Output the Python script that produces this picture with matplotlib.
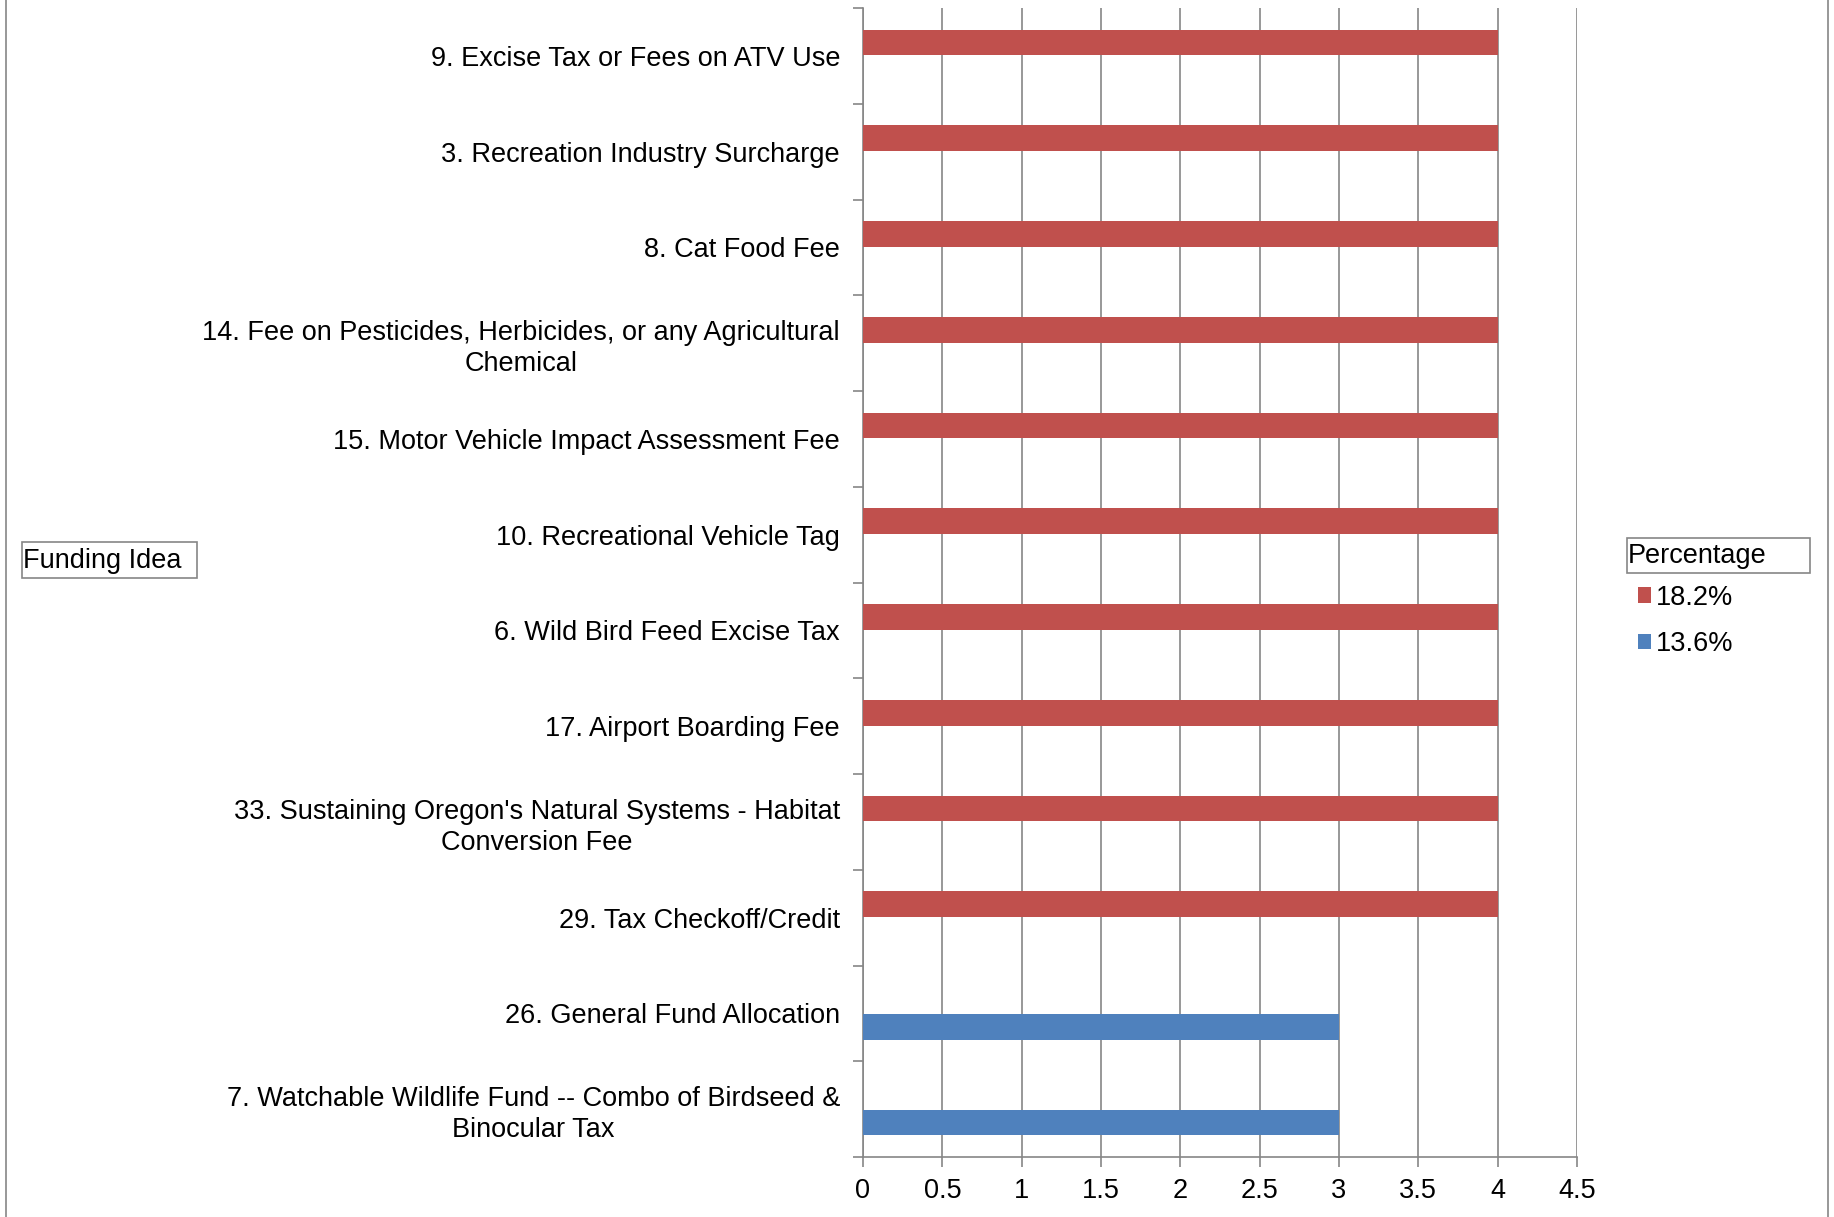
import matplotlib
matplotlib.use('Agg')
import matplotlib.pyplot as plt
from matplotlib.patches import Rectangle, Patch
from matplotlib.lines import Line2D
import numpy as np

plt.rcParams['font.family'] = ['Liberation Sans', 'DejaVu Sans']

ideas = ["9. Excise Tax or Fees on ATV Use",
         "3. Recreation Industry Surcharge",
         "8. Cat Food Fee",
         "14. Fee on Pesticides, Herbicides, or any Agricultural\nChemical",
         "15. Motor Vehicle Impact Assessment Fee",
         "10. Recreational Vehicle Tag",
         "6. Wild Bird Feed Excise Tax",
         "17. Airport Boarding Fee",
         "33. Sustaining Oregon's Natural Systems - Habitat\nConversion Fee",
         "29. Tax Checkoff/Credit",
         "26. General Fund Allocation",
         "7. Watchable Wildlife Fund -- Combo of Birdseed &\nBinocular Tax"]
pct_18 = [4, 4, 4, 4, 4, 4, 4, 4, 4, 4, 0, 0]
pct_13 = [0, 0, 0, 0, 0, 0, 0, 0, 0, 0, 3, 3]
series_names = ["18.2%", "13.6%"]
x_ticks = [0, 0.5, 1, 1.5, 2, 2.5, 3, 3.5, 4, 4.5]

red = '#C0504D'
blue = '#4F81BD'
grey = '#868686'
fs = 19.5

W, H = 1834, 1217
fig = plt.figure(figsize=(W / 100, H / 100), dpi=100)
ax = fig.add_axes([863 / W, 1 - 1157 / H, (1577 - 863) / W, (1157 - 8) / H])

y = np.arange(len(ideas))
bh = 0.27
ax.barh(y - 0.14, pct_18, height=bh, color=red, linewidth=0, zorder=3)
ax.barh(y + 0.14, pct_13, height=bh, color=blue, linewidth=0, zorder=3)

ax.set_ylim(len(ideas) - 0.5, -0.5)
ax.set_xlim(0, 4.5)
ax.set_xticks(x_ticks)
ax.set_xticklabels([f'{t:g}' for t in x_ticks], fontsize=fs)
ax.set_yticks(y)
ax.set_yticklabels(ideas, fontsize=fs, multialignment='center', linespacing=1.25)
ax.set_yticks(np.arange(len(ideas) + 1) - 0.5, minor=True)
ax.tick_params(axis='y', which='major', length=0, pad=16.5)
ax.tick_params(axis='y', which='minor', length=7, color=grey, width=1.2)
ax.tick_params(axis='x', length=7, color=grey, width=1.2, pad=8)

ax.grid(axis='x', color=grey, linewidth=1.2, zorder=0)
for s in ['top', 'right']:
    ax.spines[s].set_visible(False)
for s in ['left', 'bottom']:
    ax.spines[s].set_color(grey)
    ax.spines[s].set_linewidth(1.2)

# outer chart border (left and right edges)
for xpx in (6, 1828):
    fig.add_artist(Line2D([xpx / W, xpx / W], [0, 1], color=grey, linewidth=1.2,
                          transform=fig.transFigure))

# axis title box
fig.add_artist(Rectangle((22 / W, 1 - 578 / H), 175 / W, 36 / H, fill=False,
                         edgecolor=grey, linewidth=1.2, transform=fig.transFigure))
fig.text(23 / W, 1 - 561 / H, "Funding Idea", fontsize=fs, va='center', ha='left')

# legend title box
fig.add_artist(Rectangle((1627 / W, 1 - 573 / H), 183 / W, 35 / H, fill=False,
                         edgecolor=grey, linewidth=1.2, transform=fig.transFigure))
fig.text(1628 / W, 1 - 556 / H, "Percentage", fontsize=fs, va='center', ha='left')

handles = [Patch(facecolor=red, label=series_names[0]),
           Patch(facecolor=blue, label=series_names[1])]
fig.legend(handles=handles, loc='upper left', bbox_to_anchor=(1627 / W, 1 - 574 / H),
           frameon=False, fontsize=fs, handlelength=0.5, handleheight=0.5,
           handletextpad=0.15, labelspacing=0.75, borderaxespad=0)

fig.savefig('out.png', dpi=100, facecolor='white')
